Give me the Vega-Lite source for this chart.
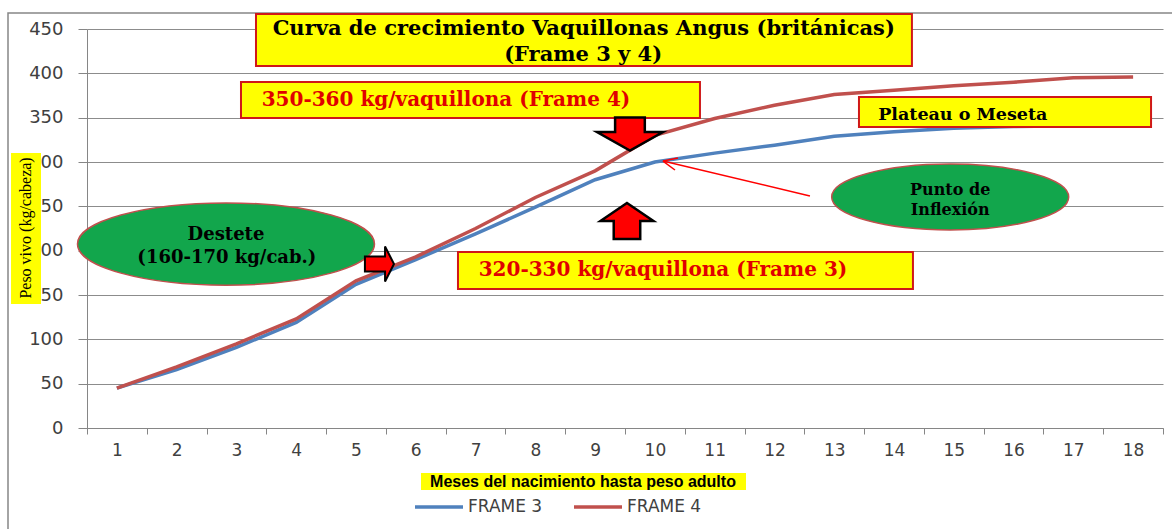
{
  "$schema": "https://vega.github.io/schema/vega-lite/v6.json",
  "width": 1076,
  "height": 399,
  "autosize": {"type": "none"},
  "padding": {"left": 87, "top": 29, "right": 9, "bottom": 101},
  "background": "white",
  "config": {"view": {"stroke": null}, "font": "DejaVu Sans"},
  "datasets": {
    "growth": [
      {"mes": 1, "serie": "FRAME 3", "peso": 45}, {"mes": 2, "serie": "FRAME 3", "peso": 66},
      {"mes": 3, "serie": "FRAME 3", "peso": 91}, {"mes": 4, "serie": "FRAME 3", "peso": 119},
      {"mes": 5, "serie": "FRAME 3", "peso": 162}, {"mes": 6, "serie": "FRAME 3", "peso": 190},
      {"mes": 7, "serie": "FRAME 3", "peso": 219}, {"mes": 8, "serie": "FRAME 3", "peso": 249},
      {"mes": 9, "serie": "FRAME 3", "peso": 280}, {"mes": 10, "serie": "FRAME 3", "peso": 300},
      {"mes": 11, "serie": "FRAME 3", "peso": 310}, {"mes": 12, "serie": "FRAME 3", "peso": 319},
      {"mes": 13, "serie": "FRAME 3", "peso": 329}, {"mes": 14, "serie": "FRAME 3", "peso": 334},
      {"mes": 15, "serie": "FRAME 3", "peso": 338}, {"mes": 16, "serie": "FRAME 3", "peso": 340},
      {"mes": 17, "serie": "FRAME 3", "peso": 341}, {"mes": 18, "serie": "FRAME 3", "peso": 342},
      {"mes": 1, "serie": "FRAME 4", "peso": 45}, {"mes": 2, "serie": "FRAME 4", "peso": 69},
      {"mes": 3, "serie": "FRAME 4", "peso": 95}, {"mes": 4, "serie": "FRAME 4", "peso": 123},
      {"mes": 5, "serie": "FRAME 4", "peso": 166}, {"mes": 6, "serie": "FRAME 4", "peso": 193},
      {"mes": 7, "serie": "FRAME 4", "peso": 225}, {"mes": 8, "serie": "FRAME 4", "peso": 260},
      {"mes": 9, "serie": "FRAME 4", "peso": 290}, {"mes": 10, "serie": "FRAME 4", "peso": 330},
      {"mes": 11, "serie": "FRAME 4", "peso": 349}, {"mes": 12, "serie": "FRAME 4", "peso": 364},
      {"mes": 13, "serie": "FRAME 4", "peso": 376}, {"mes": 14, "serie": "FRAME 4", "peso": 381},
      {"mes": 15, "serie": "FRAME 4", "peso": 386}, {"mes": 16, "serie": "FRAME 4", "peso": 390},
      {"mes": 17, "serie": "FRAME 4", "peso": 395}, {"mes": 18, "serie": "FRAME 4", "peso": 396}
    ],
    "frame": [{"x": -0.8215, "x2": 18.8, "y": 468.0, "y2": -130}],
    "redBoxes": [
      {"x": 3.327, "x2": 14.30, "y": 466.9, "y2": 408.3},
      {"x": 3.076, "x2": 10.754, "y": 390.2, "y2": 349.6},
      {"x": 13.414, "x2": 18.30, "y": 373.3, "y2": 339.5},
      {"x": 6.706, "x2": 14.317, "y": 198.5, "y2": 156.8}
    ],
    "plainBoxes": [
      {"x": -0.771, "x2": -0.2695, "y": 310.1, "y2": 139.8},
      {"x": 6.087, "x2": 11.524, "y": -50.75, "y2": -69.9}
    ],
    "titleText": [
      {"x": 8.81, "y": 450, "t": "Curva de crecimiento Vaquillonas Angus (británicas)"},
      {"x": 8.80, "y": 420.7, "t": "(Frame 3 y 4)"}
    ],
    "redText": [
      {"x": 6.505, "y": 369.9, "t": "350-360 kg/vaquillona (Frame 4)"},
      {"x": 10.135, "y": 178.2, "t": "320-330 kg/vaquillona (Frame 3)"}
    ],
    "plateauText": [{"x": 15.15, "y": 353.0, "t": "Plateau o Meseta"}],
    "desteteText": [
      {"x": 2.825, "y": 217.7, "t": "Destete"},
      {"x": 2.84, "y": 191.7, "t": "(160-170 kg/cab.)"}
    ],
    "puntoText": [
      {"x": 14.94, "y": 268.4, "t": "Punto de"},
      {"x": 14.94, "y": 245.9, "t": "Inflexión"}
    ],
    "yTitle": [{"x": -0.52, "y": 225.6, "t": "Peso vivo (kg/cabeza)"}],
    "xTitle": [{"x": 8.797, "y": -60.9, "t": "Meses del nacimiento hasta peso adulto"}],
    "desteteEllipse": [{"x": 2.825, "y": 207.5}],
    "puntoEllipse": [{"x": 14.94, "y": 260.5}],
    "downArrow": [{"x": 9.583, "y": 331.6}],
    "upArrow": [{"x": 9.533, "y": 233.5}],
    "rightArrow": [{"x": 5.401, "y": 185.0}],
    "pointer": [
      {"x": 12.594, "y": 261.7, "x2": 10.135, "y2": 301.1},
      {"x": 10.135, "y": 301.1, "x2": 10.336, "y2": 291.0},
      {"x": 10.135, "y": 301.1, "x2": 10.386, "y2": 304.5}
    ]
  },
  "resolve": {"scale": {"x": "independent", "y": "independent"}},
  "layer": [
    {
      "data": {"name": "frame"},
      "mark": {"type": "rect", "fill": null, "fillOpacity": 0, "stroke": "#868686", "strokeWidth": 1.5},
      "encoding": {
        "x": {"field": "x", "type": "quantitative", "scale": {"domain": [0.5, 18.5], "nice": false, "zero": false}, "axis": null},
        "x2": {"field": "x2"},
        "y": {"field": "y", "type": "quantitative", "scale": {"domain": [0, 450], "nice": false, "zero": false}, "axis": null},
        "y2": {"field": "y2"}
      }
    },
    {
      "data": {"name": "growth"},
      "mark": {"type": "line", "strokeWidth": 3.5},
      "encoding": {
        "x": {
          "field": "mes", "type": "ordinal",
          "scale": {"type": "band", "paddingInner": 0, "paddingOuter": 0},
          "axis": {"title": null, "tickBand": "extent", "grid": false, "labelAngle": 0, "tickSize": 6,
                   "labelFont": "DejaVu Sans", "labelFontSize": 17, "labelColor": "#404040", "labelPadding": 8,
                   "domainColor": "#868686", "tickColor": "#868686"}
        },
        "y": {
          "field": "peso", "type": "quantitative",
          "scale": {"domain": [0, 450], "nice": false, "zero": false},
          "axis": {"title": null, "values": [0, 50, 100, 150, 200, 250, 300, 350, 400, 450], "grid": true,
                   "gridColor": "#8c8c8c", "tickSize": 9, "labelFont": "DejaVu Sans", "labelFontSize": 18,
                   "labelColor": "#404040", "labelPadding": 15, "domainColor": "#868686", "tickColor": "#868686"}
        },
        "color": {
          "field": "serie", "type": "nominal",
          "scale": {"domain": ["FRAME 3", "FRAME 4"], "range": ["#4F81BD", "#C0504D"]},
          "legend": {"title": null, "orient": "none", "legendX": 326, "legendY": 452, "direction": "horizontal",
                     "symbolType": "stroke", "symbolSize": 2304, "symbolStrokeWidth": 3.5,
                     "labelFont": "DejaVu Sans", "labelFontSize": 17, "labelColor": "#404040",
                     "labelOffset": 3, "columnPadding": 24}
        }
      }
    },
    {
      "data": {"name": "redBoxes"},
      "mark": {"type": "rect", "fill": "#FFFF00", "stroke": "#D01818", "strokeWidth": 2},
      "encoding": {
        "x": {"field": "x", "type": "quantitative", "scale": {"domain": [0.5, 18.5], "nice": false, "zero": false}, "axis": null},
        "x2": {"field": "x2"},
        "y": {"field": "y", "type": "quantitative", "scale": {"domain": [0, 450], "nice": false, "zero": false}, "axis": null},
        "y2": {"field": "y2"}
      }
    },
    {
      "data": {"name": "plainBoxes"},
      "mark": {"type": "rect", "fill": "#FFFF00"},
      "encoding": {
        "x": {"field": "x", "type": "quantitative", "scale": {"domain": [0.5, 18.5], "nice": false, "zero": false}, "axis": null},
        "x2": {"field": "x2"},
        "y": {"field": "y", "type": "quantitative", "scale": {"domain": [0, 450], "nice": false, "zero": false}, "axis": null},
        "y2": {"field": "y2"}
      }
    },
    {
      "data": {"name": "desteteEllipse"},
      "mark": {"type": "point", "shape": "M -1 0 A 1 0.277 0 1 0 1 0 A 1 0.277 0 1 0 -1 0 Z", "size": 88209,
               "filled": true, "fill": "#12A64C", "stroke": "#C0504D", "strokeWidth": 1.5, "opacity": 1, "fillOpacity": 1},
      "encoding": {
        "x": {"field": "x", "type": "quantitative", "scale": {"domain": [0.5, 18.5], "nice": false, "zero": false}, "axis": null},
        "y": {"field": "y", "type": "quantitative", "scale": {"domain": [0, 450], "nice": false, "zero": false}, "axis": null}
      }
    },
    {
      "data": {"name": "puntoEllipse"},
      "mark": {"type": "point", "shape": "M -1 0 A 1 0.278 0 1 0 1 0 A 1 0.278 0 1 0 -1 0 Z", "size": 56169,
               "filled": true, "fill": "#12A64C", "stroke": "#C0504D", "strokeWidth": 1.5, "opacity": 1, "fillOpacity": 1},
      "encoding": {
        "x": {"field": "x", "type": "quantitative", "scale": {"domain": [0.5, 18.5], "nice": false, "zero": false}, "axis": null},
        "y": {"field": "y", "type": "quantitative", "scale": {"domain": [0, 450], "nice": false, "zero": false}, "axis": null}
      }
    },
    {
      "data": {"name": "downArrow"},
      "mark": {"type": "point", "shape": "M -0.45 -0.5 L 0.45 -0.5 L 0.45 -0.06 L 1 -0.06 L 0 0.5 L -1 -0.06 L -0.45 -0.06 Z",
               "size": 4356, "filled": true, "fill": "#FF0000", "stroke": "#000000", "strokeWidth": 2.5, "opacity": 1},
      "encoding": {
        "x": {"field": "x", "type": "quantitative", "scale": {"domain": [0.5, 18.5], "nice": false, "zero": false}, "axis": null},
        "y": {"field": "y", "type": "quantitative", "scale": {"domain": [0, 450], "nice": false, "zero": false}, "axis": null}
      }
    },
    {
      "data": {"name": "upArrow"},
      "mark": {"type": "point", "shape": "M 0 -0.68 L 1 0 L 0.5 0 L 0.5 0.68 L -0.5 0.68 L -0.5 0 L -1 0 Z",
               "size": 2809, "filled": true, "fill": "#FF0000", "stroke": "#000000", "strokeWidth": 2.5, "opacity": 1},
      "encoding": {
        "x": {"field": "x", "type": "quantitative", "scale": {"domain": [0.5, 18.5], "nice": false, "zero": false}, "axis": null},
        "y": {"field": "y", "type": "quantitative", "scale": {"domain": [0, 450], "nice": false, "zero": false}, "axis": null}
      }
    },
    {
      "data": {"name": "rightArrow"},
      "mark": {"type": "point", "shape": "M -0.86 -0.43 L 0.29 -0.43 L 0.29 -1 L 0.8 0 L 0.29 1 L 0.29 0.43 L -0.86 0.43 Z",
               "size": 1225, "filled": true, "fill": "#FF0000", "stroke": "#000000", "strokeWidth": 2, "opacity": 1},
      "encoding": {
        "x": {"field": "x", "type": "quantitative", "scale": {"domain": [0.5, 18.5], "nice": false, "zero": false}, "axis": null},
        "y": {"field": "y", "type": "quantitative", "scale": {"domain": [0, 450], "nice": false, "zero": false}, "axis": null}
      }
    },
    {
      "data": {"name": "pointer"},
      "mark": {"type": "rule", "stroke": "#FF0000", "strokeWidth": 1.5},
      "encoding": {
        "x": {"field": "x", "type": "quantitative", "scale": {"domain": [0.5, 18.5], "nice": false, "zero": false}, "axis": null},
        "x2": {"field": "x2"},
        "y": {"field": "y", "type": "quantitative", "scale": {"domain": [0, 450], "nice": false, "zero": false}, "axis": null},
        "y2": {"field": "y2"}
      }
    },
    {
      "data": {"name": "titleText"},
      "mark": {"type": "text", "font": "DejaVu Serif", "fontWeight": "bold", "fontSize": 21, "color": "#000000", "align": "center", "baseline": "middle"},
      "encoding": {
        "x": {"field": "x", "type": "quantitative", "scale": {"domain": [0.5, 18.5], "nice": false, "zero": false}, "axis": null},
        "y": {"field": "y", "type": "quantitative", "scale": {"domain": [0, 450], "nice": false, "zero": false}, "axis": null},
        "text": {"field": "t"}
      }
    },
    {
      "data": {"name": "redText"},
      "mark": {"type": "text", "font": "DejaVu Serif", "fontWeight": "bold", "fontSize": 20, "color": "#E00000", "align": "center", "baseline": "middle"},
      "encoding": {
        "x": {"field": "x", "type": "quantitative", "scale": {"domain": [0.5, 18.5], "nice": false, "zero": false}, "axis": null},
        "y": {"field": "y", "type": "quantitative", "scale": {"domain": [0, 450], "nice": false, "zero": false}, "axis": null},
        "text": {"field": "t"}
      }
    },
    {
      "data": {"name": "plateauText"},
      "mark": {"type": "text", "font": "DejaVu Serif", "fontWeight": "bold", "fontSize": 17.5, "color": "#000000", "align": "center", "baseline": "middle"},
      "encoding": {
        "x": {"field": "x", "type": "quantitative", "scale": {"domain": [0.5, 18.5], "nice": false, "zero": false}, "axis": null},
        "y": {"field": "y", "type": "quantitative", "scale": {"domain": [0, 450], "nice": false, "zero": false}, "axis": null},
        "text": {"field": "t"}
      }
    },
    {
      "data": {"name": "desteteText"},
      "mark": {"type": "text", "font": "DejaVu Serif", "fontWeight": "bold", "fontSize": 18, "color": "#000000", "align": "center", "baseline": "middle"},
      "encoding": {
        "x": {"field": "x", "type": "quantitative", "scale": {"domain": [0.5, 18.5], "nice": false, "zero": false}, "axis": null},
        "y": {"field": "y", "type": "quantitative", "scale": {"domain": [0, 450], "nice": false, "zero": false}, "axis": null},
        "text": {"field": "t"}
      }
    },
    {
      "data": {"name": "puntoText"},
      "mark": {"type": "text", "font": "DejaVu Serif", "fontWeight": "bold", "fontSize": 16, "color": "#000000", "align": "center", "baseline": "middle"},
      "encoding": {
        "x": {"field": "x", "type": "quantitative", "scale": {"domain": [0.5, 18.5], "nice": false, "zero": false}, "axis": null},
        "y": {"field": "y", "type": "quantitative", "scale": {"domain": [0, 450], "nice": false, "zero": false}, "axis": null},
        "text": {"field": "t"}
      }
    },
    {
      "data": {"name": "yTitle"},
      "mark": {"type": "text", "font": "Liberation Serif", "fontSize": 16, "color": "#000000", "align": "center", "baseline": "middle", "angle": 270},
      "encoding": {
        "x": {"field": "x", "type": "quantitative", "scale": {"domain": [0.5, 18.5], "nice": false, "zero": false}, "axis": null},
        "y": {"field": "y", "type": "quantitative", "scale": {"domain": [0, 450], "nice": false, "zero": false}, "axis": null},
        "text": {"field": "t"}
      }
    },
    {
      "data": {"name": "xTitle"},
      "mark": {"type": "text", "font": "Liberation Sans", "fontWeight": "bold", "fontSize": 16, "color": "#000000", "align": "center", "baseline": "middle"},
      "encoding": {
        "x": {"field": "x", "type": "quantitative", "scale": {"domain": [0.5, 18.5], "nice": false, "zero": false}, "axis": null},
        "y": {"field": "y", "type": "quantitative", "scale": {"domain": [0, 450], "nice": false, "zero": false}, "axis": null},
        "text": {"field": "t"}
      }
    }
  ]
}
